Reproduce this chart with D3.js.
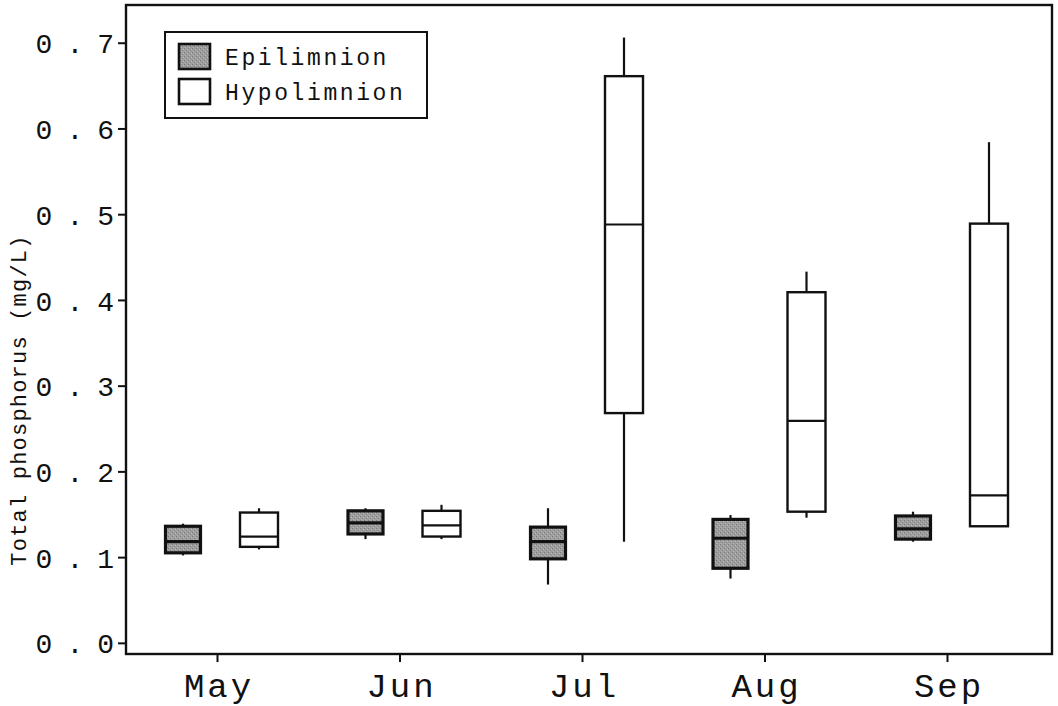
<!DOCTYPE html>
<html>
<head>
<meta charset="utf-8">
<script src="https://cdn.jsdelivr.net/npm/d3@7"></script>
<style>
  html, body { margin: 0; padding: 0; background: #fff; }
  svg { display: block; }
  text { font-family: "Liberation Mono", "Courier New", monospace; fill: #111; }
</style>
</head>
<body>
<svg id="chart" width="1058" height="706"></svg>
<script>
// Total phosphorus by month, epilimnion vs hypolimnion (mg/L)
const months = ["May", "Jun", "Jul", "Aug", "Sep"];
const yTicks = [0.0, 0.1, 0.2, 0.3, 0.4, 0.5, 0.6, 0.7];
const seriesNames = ["Epilimnion", "Hypolimnion"];

const epiMin    = [0.102, 0.121, 0.068, 0.075, 0.118];
const epiQ1     = [0.105, 0.127, 0.098, 0.087, 0.121];
const epiMedian = [0.118, 0.140, 0.118, 0.122, 0.133];
const epiQ3     = [0.136, 0.154, 0.135, 0.144, 0.148];
const epiMax    = [0.139, 0.157, 0.157, 0.149, 0.153];

const hypoMin    = [0.109, 0.121, 0.118, 0.146, 0.136];
const hypoQ1     = [0.112, 0.124, 0.268, 0.153, 0.136];
const hypoMedian = [0.124, 0.137, 0.488, 0.259, 0.172];
const hypoQ3     = [0.152, 0.154, 0.661, 0.409, 0.489];
const hypoMax    = [0.157, 0.161, 0.706, 0.433, 0.584];

const svg = d3.select("#chart");
const frame = { left: 126, top: 5, right: 1052, bottom: 654 };

const y = d3.scaleLinear().domain([-0.013, 0.744]).range([frame.bottom, frame.top]);
const x = d3.scalePoint().domain(months).range([217, 947]);

const series = [
  { name: seriesNames[0], offset: -34, width: 35, fill: "url(#grain)", stroke: 3.2, medStroke: 3.2,
    min: epiMin, q1: epiQ1, med: epiMedian, q3: epiQ3, max: epiMax },
  { name: seriesNames[1], offset: 42, width: 38, fill: "#ffffff", stroke: 2.4, medStroke: 2.2,
    min: hypoMin, q1: hypoQ1, med: hypoMedian, q3: hypoQ3, max: hypoMax }
];

// speckled grey fill for the epilimnion boxes
const defs = svg.append("defs");
const pat = defs.append("pattern").attr("id", "grain")
  .attr("width", 4).attr("height", 4).attr("patternUnits", "userSpaceOnUse");
pat.append("rect").attr("width", 4).attr("height", 4).attr("fill", "#9e9e9e");
pat.append("rect").attr("x", 0).attr("y", 0).attr("width", 1).attr("height", 1).attr("fill", "#7a7a7a");
pat.append("rect").attr("x", 2).attr("y", 2).attr("width", 1).attr("height", 1).attr("fill", "#828282");
pat.append("rect").attr("x", 3).attr("y", 1).attr("width", 1).attr("height", 1).attr("fill", "#bababa");
pat.append("rect").attr("x", 1).attr("y", 3).attr("width", 1).attr("height", 1).attr("fill", "#b5b5b5");

// plot frame
svg.append("rect")
  .attr("x", frame.left).attr("y", frame.top)
  .attr("width", frame.right - frame.left).attr("height", frame.bottom - frame.top)
  .attr("fill", "none").attr("stroke", "#111").attr("stroke-width", 2.4);

// y axis
const yAxis = d3.axisLeft(y).tickValues(yTicks).tickSize(8).tickPadding(4)
  .tickFormat(d3.format(".1f"));
const gy = svg.append("g").attr("transform", `translate(${frame.left},0)`).call(yAxis);
gy.select(".domain").remove();
gy.selectAll(".tick line").attr("stroke", "#111").attr("stroke-width", 2);
gy.selectAll(".tick text")
  .attr("font-size", 28).attr("letter-spacing", 14).attr("dx", 14).attr("dy", "0.36em")
  .attr("font-family", "Liberation Mono").attr("fill", "#111");

// x axis
const xAxis = d3.axisBottom(x).tickSize(8).tickPadding(11);
const gx = svg.append("g").attr("transform", `translate(0,${frame.bottom})`).call(xAxis);
gx.select(".domain").remove();
gx.selectAll(".tick line").attr("stroke", "#111").attr("stroke-width", 2);
gx.selectAll(".tick text")
  .attr("font-size", 34).attr("letter-spacing", 3).attr("dx", 1.5)
  .attr("font-family", "Liberation Mono").attr("fill", "#111");

// y axis title
svg.append("text")
  .attr("transform", `translate(18,${(232 + 568) / 2}) rotate(-90)`)
  .attr("text-anchor", "middle").attr("dy", "0.35em")
  .attr("font-size", 22).attr("letter-spacing", 1.2)
  .text("Total phosphorus (mg/L)");

// box plots
series.forEach(s => {
  const g = svg.append("g");
  months.forEach((m, i) => {
    const cx = x(m) + s.offset;
    const x0 = cx - s.width / 2;
    // whiskers
    g.append("line").attr("x1", cx).attr("x2", cx)
      .attr("y1", y(s.max[i])).attr("y2", y(s.q3[i]))
      .attr("stroke", "#111").attr("stroke-width", 2.2);
    g.append("line").attr("x1", cx).attr("x2", cx)
      .attr("y1", y(s.q1[i])).attr("y2", y(s.min[i]))
      .attr("stroke", "#111").attr("stroke-width", 2.2);
    // box
    g.append("rect").attr("x", x0).attr("y", y(s.q3[i]))
      .attr("width", s.width).attr("height", y(s.q1[i]) - y(s.q3[i]))
      .attr("fill", s.fill)
      .attr("stroke", "#111").attr("stroke-width", s.stroke);
    // median
    g.append("line").attr("x1", x0).attr("x2", x0 + s.width)
      .attr("y1", y(s.med[i])).attr("y2", y(s.med[i]))
      .attr("stroke", "#111").attr("stroke-width", s.medStroke);
  });
});

// legend
const lg = svg.append("g");
lg.append("rect").attr("x", 165).attr("y", 32).attr("width", 262).attr("height", 86)
  .attr("fill", "#fff").attr("stroke", "#111").attr("stroke-width", 2);
series.forEach((s, i) => {
  const yy = 44 + i * 35;
  lg.append("rect").attr("x", 179).attr("y", yy).attr("width", 31).attr("height", 25)
    .attr("fill", s.fill)
    .attr("stroke", "#111").attr("stroke-width", 2.6);
  lg.append("text").attr("x", 225).attr("y", yy + 12.5).attr("dy", "0.35em")
    .attr("font-size", 23).attr("letter-spacing", 2.6)
    .text(s.name);
});
</script>
</body>
</html>
